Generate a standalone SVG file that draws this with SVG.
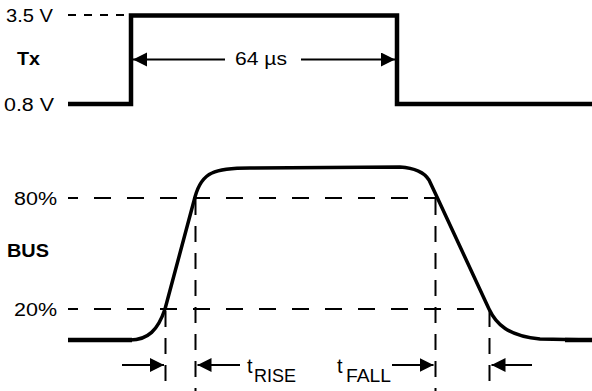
<svg xmlns="http://www.w3.org/2000/svg" width="592" height="391" viewBox="0 0 592 391">
<defs>
<marker id="ah" markerUnits="userSpaceOnUse" markerWidth="16" markerHeight="16" refX="14" refY="7" orient="auto">
<path d="M0,0 L14,7 L0,14 z" fill="#000"/>
</marker>
<style>
.lbl{font-family:"Liberation Sans",Arial,sans-serif;font-size:18px;fill:#000}
.b{font-weight:bold}
.t{font-size:20px}
.wave{fill:none;stroke:#000;stroke-width:4.5;stroke-linejoin:miter}
.curve{fill:none;stroke:#000;stroke-width:3.5;stroke-linejoin:round}
.hd{stroke:#000;stroke-width:2;stroke-dasharray:17 16;fill:none}
.vd{stroke:#000;stroke-width:2;stroke-dasharray:16 11;fill:none}
.arr{stroke:#000;stroke-width:2;fill:none;marker-end:url(#ah)}
</style>
</defs>
<rect width="592" height="391" fill="#fff"/>
<g id="tx">
<text class="lbl" x="6" y="21.5" textLength="47" lengthAdjust="spacingAndGlyphs">3.5 V</text>
<text class="lbl b" x="17" y="65" textLength="23" lengthAdjust="spacingAndGlyphs">Tx</text>
<text class="lbl" x="4" y="110.5" textLength="50" lengthAdjust="spacingAndGlyphs">0.8 V</text>
<line x1="68" y1="15" x2="127" y2="15" stroke="#000" stroke-width="2" stroke-dasharray="8 8"/>
<path class="wave" d="M68,104 L131,104 L131,15.5 L397,15.5 L397,104 L592,104"/>
<text class="lbl" x="235" y="65" textLength="52" lengthAdjust="spacingAndGlyphs">64 µs</text>
</g>
<g id="bus">
<text class="lbl" x="14" y="204.5" textLength="43" lengthAdjust="spacingAndGlyphs">80%</text>
<text class="lbl b" x="7" y="257" textLength="42" lengthAdjust="spacingAndGlyphs">BUS</text>
<text class="lbl" x="14" y="316" textLength="43" lengthAdjust="spacingAndGlyphs">20%</text>
<line class="hd" x1="68" y1="198" x2="437" y2="198" stroke-dashoffset="7"/>
<line class="hd" x1="68" y1="309" x2="490" y2="309" stroke-dashoffset="7"/>
<line class="vd" x1="165.5" y1="311" x2="165.5" y2="391"/>
<line class="vd" x1="195.5" y1="199" x2="195.5" y2="391"/>
<line class="vd" x1="435.5" y1="199" x2="435.5" y2="391"/>
<line class="vd" x1="489.5" y1="311" x2="489.5" y2="391"/>
<path class="curve" d="M68,340 L130,340 C148,340 158,330 165,309 L195,197 C198,186 203,177 212,173 C220,169 232,168 250,168 L400,167 C415,168 424,172 429,180 L437,197 L489,309 C496,324 508,336 540,339 L592,340"/>
<line x1="68" y1="340" x2="132" y2="340" stroke="#000" stroke-width="4.5"/>
<line x1="565" y1="340" x2="592" y2="340" stroke="#000" stroke-width="4.5"/>
<text class="lbl t" x="247" y="373">t</text>
<text class="lbl" x="254" y="381.5" textLength="42" lengthAdjust="spacingAndGlyphs">RISE</text>
<text class="lbl t" x="337" y="373">t</text>
<text class="lbl" x="346" y="381.5" textLength="45" lengthAdjust="spacingAndGlyphs">FALL</text>
</g>
<g id="connectors">
<line class="arr" x1="225" y1="59.5" x2="133" y2="59.5"/>
<line class="arr" x1="301" y1="59.5" x2="395" y2="59.5"/>
<line class="arr" x1="122" y1="365" x2="164" y2="365"/>
<line class="arr" x1="240" y1="365" x2="197.5" y2="365"/>
<line class="arr" x1="392" y1="365" x2="433.5" y2="365"/>
<line class="arr" x1="532" y1="365" x2="491.5" y2="365"/>
</g>
</svg>
